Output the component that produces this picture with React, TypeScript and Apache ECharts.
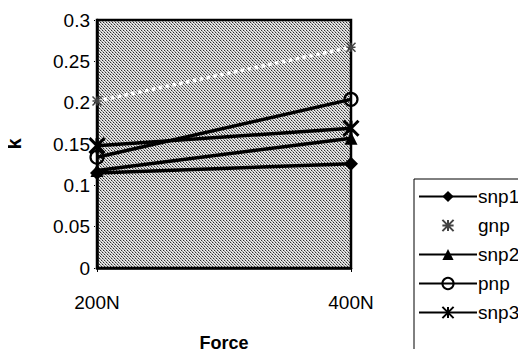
import React, { useEffect, useRef } from "react";
import * as echarts from "echarts";

const categories = ["200N", "400N"];
const snp1 = [0.115, 0.126];
const gnp = [0.202, 0.267];
const snp2 = [0.118, 0.157];
const pnp = [0.134, 0.204];
const snp3 = [0.148, 0.169];

const FONT = "'Liberation Sans', Arial, sans-serif";

// Diagonal dotted hatch used as the plot-area fill
function makeHatch(): HTMLCanvasElement {
  const c = document.createElement("canvas");
  c.width = 6;
  c.height = 6;
  const ctx = c.getContext("2d")!;
  for (let y = 0; y < 6; y++) {
    for (let x = 0; x < 6; x++) {
      const d = (((x - y) % 3) + 3) % 3;
      let col = "#f4f4f4";
      if (d === 0) col = y % 2 === 0 ? "#2e2e2e" : "#8a8a8a";
      else if (d === 1) col = "#c8c8c8";
      ctx.fillStyle = col;
      ctx.fillRect(x, y, 1, 1);
    }
  }
  return c;
}

export default function App() {
  const ref = useRef<HTMLDivElement>(null);

  useEffect(() => {
    if (!ref.current) return;
    const chart = echarts.init(ref.current, undefined, { renderer: "svg" });
    const hatch = makeHatch();

    const lineSeries = (name: string, data: number[], extra: any) => ({
      name,
      type: "line",
      data,
      z: 3,
      ...extra,
    });

    chart.setOption({
      animation: false,
      backgroundColor: "#fff",
      textStyle: { fontFamily: FONT, color: "#000" },
      grid: {
        left: 97,
        right: 175,
        top: 20,
        bottom: 89,
        containLabel: false,
        outerBoundsMode: "none",
        show: true,
        backgroundColor: { image: hatch, repeat: "repeat" },
        borderColor: "#000",
        borderWidth: 2.5,
      },
      graphic: [
        {
          type: "rect",
          shape: { x: 414, y: 179, width: 200, height: 250 },
          style: { fill: "#fff", stroke: "#000", lineWidth: 1 },
          z: 0,
        },
      ],
      legend: {
        orient: "vertical",
        left: 418,
        top: 187,
        padding: 0,
        itemWidth: 58,
        itemHeight: 14,
        itemGap: 10,
        textStyle: { fontFamily: FONT, fontSize: 19, color: "#000", padding: [0, 0, 0, -4] },
        data: ["snp1", "gnp", "snp2", "pnp", "snp3"],
        z: 5,
      },
      xAxis: {
        type: "category",
        data: categories,
        boundaryGap: false,
        name: "Force",
        nameLocation: "middle",
        nameMoveOverlap: false,
        nameGap: 66,
        nameTextStyle: { fontFamily: FONT, fontSize: 18, fontWeight: "bold", color: "#000" },
        axisLine: { show: true, lineStyle: { color: "#000", width: 2.5 } },
        axisTick: { show: true, length: 4, lineStyle: { color: "#000", width: 1 } },
        axisLabel: { fontFamily: FONT, fontSize: 19, color: "#000", margin: 25 },
        splitLine: { show: false },
      },
      yAxis: {
        type: "value",
        min: 0,
        max: 0.3,
        interval: 0.05,
        name: "k",
        nameLocation: "middle",
        nameMoveOverlap: false,
        nameGap: 73,
        nameTextStyle: { fontFamily: FONT, fontSize: 20, fontWeight: "bold", color: "#000" },
        axisLine: { show: true, lineStyle: { color: "#000", width: 2.5 } },
        axisTick: { show: true, length: 4, lineStyle: { color: "#000", width: 1, type: "dotted" } },
        axisLabel: { fontFamily: FONT, fontSize: 19, color: "#000", margin: 7 },
        splitLine: { show: false },
      },
      series: [
        lineSeries("snp1", snp1, {
          symbol: "diamond",
          symbolSize: 14,
          itemStyle: { color: "#000" },
          lineStyle: { color: "#000", width: 3.5 },
        }),
        lineSeries("gnp", gnp, {
          symbol: "path://M0,0L8,8M8,0L0,8M0,4L8,4M4,0L4,8",
          symbolSize: 9,
          itemStyle: { color: "#444", borderColor: "#444", borderWidth: 1.5 },
          lineStyle: { color: "#fff", width: 3.5, type: "dotted" },
        }),
        lineSeries("snp2", snp2, {
          symbol: "triangle",
          symbolSize: 13,
          itemStyle: { color: "#000" },
          lineStyle: { color: "#000", width: 3.5 },
        }),
        lineSeries("pnp", pnp, {
          symbol: "circle",
          symbolSize: 13,
          itemStyle: { color: "transparent", borderColor: "#000", borderWidth: 2.2 },
          lineStyle: { color: "#000", width: 3.5 },
        }),
        lineSeries("snp3", snp3, {
          symbol: "path://M0,0L10,10M10,0L0,10M5,0L5,10",
          symbolSize: 15,
          itemStyle: { color: "#000", borderColor: "#000", borderWidth: 3 },
          lineStyle: { color: "#000", width: 3.5 },
        }),
      ],
    });

    return () => chart.dispose();
  }, []);

  return <div ref={ref} style={{ width: 526, height: 357, margin: -8 }} />;
}
